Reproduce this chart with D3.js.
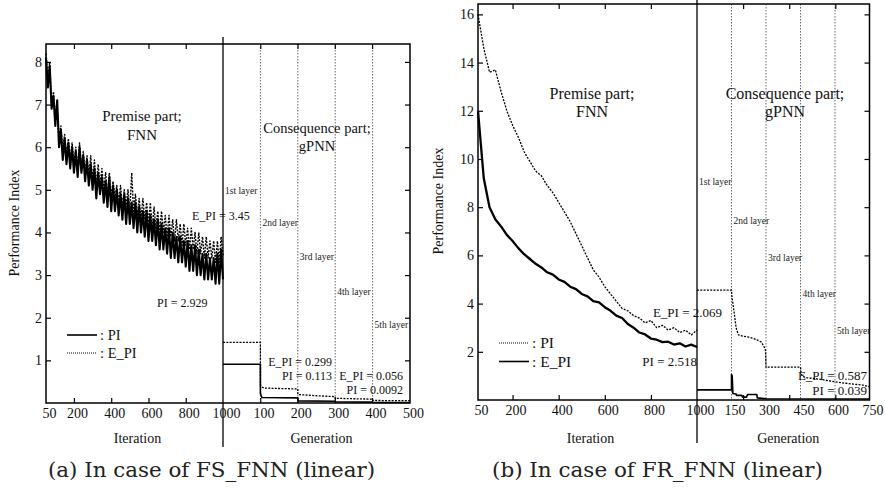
<!DOCTYPE html>
<html>
<head>
<meta charset="utf-8">
<script src="https://cdn.jsdelivr.net/npm/d3@7"></script>
<style>
body { margin: 0; background: #fff; }
svg { display: block; }
</style>
</head>
<body>
<svg id="chart" width="885" height="490"></svg>
<script>
// ---- (a) FS_FNN : premise part, one point every 10 iterations ----
var iterA = d3.range(50, 1001, 10)
var piA = [
    8.1, 7.4, 7.9, 6.9, 7.2, 6.5, 7.1, 6.0, 6.4, 5.7,
    6.2, 5.6, 6.1, 5.5, 6.0, 5.4, 5.9, 5.3, 6.0, 5.4,
    5.8, 5.2, 5.7, 5.1, 5.6, 5.0, 5.5, 4.8, 5.4, 4.9,
    5.3, 4.7, 5.2, 4.6, 5.3, 4.5, 5.1, 4.5, 5.0, 4.4,
    4.9, 4.3, 4.9, 4.2, 4.8, 4.2, 4.7, 4.1, 4.7, 4.0,
    4.6, 4.0, 4.5, 3.9, 4.5, 3.8, 4.4, 3.8, 4.3, 3.7,
    4.3, 3.6, 4.2, 3.6, 4.1, 3.5, 4.1, 3.4, 4.0, 3.4,
    3.9, 3.3, 3.9, 3.3, 3.8, 3.2, 3.8, 3.1, 3.7, 3.1,
    3.7, 3.0, 3.6, 3.0, 3.5, 2.9, 3.5, 2.9, 3.4, 2.9,
    3.4, 2.8, 3.5, 2.8, 3.6, 2.9
]
var epiA = [
    8.2, 7.6, 8.0, 7.0, 7.3, 6.7, 6.9, 6.2, 6.5, 5.9,
    6.3, 5.8, 6.2, 5.7, 6.1, 5.6, 6.0, 5.5, 6.1, 5.5,
    5.9, 5.4, 5.8, 5.3, 5.8, 5.2, 5.7, 5.1, 5.6, 5.1,
    5.5, 5.0, 5.4, 4.9, 5.4, 4.8, 5.2, 4.8, 5.1, 4.7,
    5.1, 4.6, 5.0, 4.6, 5.0, 4.5, 5.4, 4.5, 4.9, 4.4,
    4.8, 4.3, 4.8, 4.3, 4.7, 4.2, 4.7, 4.1, 4.6, 4.1,
    4.5, 4.0, 4.5, 4.0, 4.4, 3.9, 4.4, 3.9, 4.3, 3.8,
    4.3, 3.8, 4.2, 3.7, 4.2, 3.7, 4.1, 3.6, 4.1, 3.6,
    4.0, 3.5, 4.0, 3.5, 3.9, 3.4, 3.9, 3.4, 3.8, 3.4,
    3.8, 3.3, 3.8, 3.3, 3.9, 3.45
]
// consequence part (generation)
var genPiA = [0, 100, 100, 104, 200, 200, 300, 300, 400, 400, 500]
var conPiA = [0.91, 0.91, 0.22, 0.13, 0.12, 0.05, 0.04, 0.03, 0.02, 0.01, 0.01]
var genEpiA = [0, 100, 100, 103, 110, 150, 200, 200, 250, 300, 300, 350, 400, 400, 450, 500]
var conEpiA = [1.42, 1.42, 0.42, 0.38, 0.35, 0.34, 0.33, 0.2, 0.17, 0.15, 0.11, 0.1, 0.09, 0.06, 0.056, 0.056]

// ---- (b) FR_FNN : premise part, one point every 25 iterations ----
var iterB = d3.range(50, 1001, 25)
var upperB = [
    16.0, 14.6, 13.6, 13.7, 12.8, 12.0, 11.4, 10.9, 10.3, 9.9,
    9.5, 9.3, 8.9, 8.6, 8.2, 7.8, 7.4, 6.9, 6.4, 5.9,
    5.4, 5.1, 4.7, 4.4, 4.1, 3.8, 3.7, 3.5, 3.4, 3.2,
    3.3, 3.0, 3.1, 2.9, 3.0, 2.8, 2.9, 2.7, 2.9
]
var lowerB = [
    12.0, 9.2, 8.0, 7.5, 7.2, 6.85, 6.6, 6.3, 6.05, 5.85,
    5.65, 5.5, 5.3, 5.2, 5.0, 4.9, 4.7, 4.6, 4.4, 4.3,
    4.1, 4.05, 3.85, 3.7, 3.5, 3.4, 3.15, 3.0, 2.8, 2.72,
    2.55, 2.5, 2.4, 2.42, 2.3, 2.35, 2.22, 2.3, 2.2
]
var genUpperB = [0, 150, 152, 156, 162, 170, 180, 200, 230, 260, 280, 292, 298, 300, 450, 453, 460, 480, 520, 560, 600, 640, 680, 720, 750]
var conUpperB = [4.56, 4.56, 4.3, 4.0, 3.6, 3.0, 2.7, 2.65, 2.6, 2.5, 2.4, 2.2, 2.05, 1.36, 1.36, 1.1, 0.97, 0.92, 0.88, 0.82, 0.76, 0.7, 0.66, 0.62, 0.55]
var genLowerB = [0, 150, 150, 153, 156, 170, 172, 195, 198, 215, 220, 260, 262, 300, 750]
var conLowerB = [0.42, 0.42, 1.06, 1.0, 0.27, 0.25, 0.19, 0.19, 0.12, 0.12, 0.23, 0.23, 0.09, 0.05, 0.04]

var layerNames = ['1st layer', '2nd layer', '3rd layer', '4th layer', '5th layer']

var FONT = 'Liberation Serif'
var svg = d3.select('#chart')
svg.append('rect').attr('width', 885).attr('height', 490).attr('fill', '#fff')

var DOT = '2,1.3'

function label(g, x, y, size, str) {
    return g.append('text')
        .attr('x', x).attr('y', y)
        .attr('font-family', FONT)
        .attr('font-size', size)
        .attr('fill', '#111')
        .text(str)
}

function drawPanel(p) {
    var g = svg.append('g')
    var y = d3.scaleLinear().domain([0, p.yMax]).range([p.bottom, p.top])
    var xi = d3.scaleLinear().domain([50, 1000]).range([p.left, p.mid])
    var xg = d3.scaleLinear().domain([0, p.genMax]).range([p.mid, p.right])

    // layer borders
    g.selectAll('line.layer')
        .data(p.layerGen.slice(1))
        .join('line')
        .attr('x1', d => xg(d)).attr('x2', d => xg(d))
        .attr('y1', p.top).attr('y2', p.bottom)
        .attr('stroke', '#444').attr('stroke-width', 0.8)
        .attr('stroke-dasharray', '1.5,1.5')

    // ticks (inward, on all four sides)
    var tickAxes = [
        [d3.axisTop(xi).tickValues(p.iterTicks), `translate(0,${p.top})`],
        [d3.axisBottom(xi).tickValues(p.iterTicks), `translate(0,${p.bottom})`],
        [d3.axisRight(y).tickValues(p.yTicks), `translate(${p.right},0)`]
    ]
    tickAxes.forEach(a => {
        var ag = g.append('g').attr('transform', a[1])
            .call(a[0].tickSizeInner(-5).tickSizeOuter(0).tickFormat(''))
        ag.select('.domain').remove()
        ag.selectAll('line').attr('stroke', '#000').attr('stroke-width', 1.2)
    })

    // y axis with labels
    var ya = g.append('g').attr('transform', `translate(${p.left},0)`)
        .call(d3.axisLeft(y).tickValues(p.yTicks).tickSizeInner(-5).tickSizeOuter(0).tickPadding(4))
    ya.select('.domain').remove()
    ya.selectAll('line').attr('stroke', '#000').attr('stroke-width', 1.2)

    // x labels
    var xa = g.append('g').attr('transform', `translate(0,${p.bottom})`)
        .call(d3.axisBottom(xi).tickValues(p.iterLabels).tickFormat(d3.format('d')).tickSize(0).tickPadding(5))
    var ga = g.append('g').attr('transform', `translate(0,${p.bottom})`)
        .call(d3.axisBottom(xg).tickValues(p.genLabels).tickFormat(d3.format('d')).tickSize(0).tickPadding(5))
    ;[ya, xa, ga].forEach(a => {
        a.attr('font-size', null).attr('font-family', null)
        a.selectAll('text').attr('fill', '#111').attr('font-family', FONT).attr('font-size', 14)
    })
    xa.select('.domain').remove()
    ga.select('.domain').remove()
    xa.selectAll('text').attr('dx', 3)
    ga.selectAll('text').attr('dx', 3)

    // curves
    var lineI = (xs) => d3.line().x((d, i) => xi(xs[i])).y(d => y(d))
    var lineG = (xs) => d3.line().x((d, i) => xg(xs[i])).y(d => y(d))
    p.curves.forEach(c => {
        g.append('path')
            .datum(c.values)
            .attr('d', (c.gen ? lineG : lineI)(c.x))
            .attr('fill', 'none')
            .attr('stroke', '#000')
            .attr('stroke-width', c.w)
            .attr('stroke-dasharray', c.dash ? DOT : null)
            .attr('stroke-linejoin', 'round')
    })

    // frame
    g.append('rect')
        .attr('x', p.left).attr('y', p.top)
        .attr('width', p.right - p.left).attr('height', p.bottom - p.top)
        .attr('fill', 'none').attr('stroke', '#000').attr('stroke-width', 1.5)

    // premise / consequence divider
    g.append('line')
        .attr('x1', p.mid).attr('x2', p.mid)
        .attr('y1', p.divTop).attr('y2', p.divBottom)
        .attr('stroke', '#000').attr('stroke-width', 1.3)

    // layer labels
    layerNames.forEach((d, i) => {
        label(g, xg(p.layerGen[i]) + 2, y(p.layerY[i]), 9.5, d).attr('fill', '#222')
    })

    // section titles
    p.titles.forEach(t => {
        label(g, t.x, t.y, t.size, t.text).attr('text-anchor', 'middle')
    })

    // value notes
    p.notes.forEach(t => {
        label(g, t.x, t.y, t.size, t.text).attr('text-anchor', t.end ? 'end' : 'start')
    })

    // legend
    p.legend.forEach((l, i) => {
        var ly = p.legendY + i * p.legendStep
        g.append('line')
            .attr('x1', p.legendX).attr('x2', p.legendX + 30)
            .attr('y1', ly).attr('y2', ly)
            .attr('stroke', '#000')
            .attr('stroke-width', l.dash ? 1 : 1.6)
            .attr('stroke-dasharray', l.dash ? '1,1' : null)
        label(g, p.legendX + 33, ly + 5, p.legendSize, ': ' + l.name)
    })

    // axis titles
    label(g, 0, 0, 14, 'Performance Index')
        .attr('transform', `translate(${p.yTitleX},${p.yTitleY}) rotate(-90)`)
        .attr('text-anchor', 'middle')
    label(g, (p.left + p.mid) / 2 + 3, 443, 14, 'Iteration').attr('text-anchor', 'middle')
    label(g, (p.mid + p.right) / 2 + 5, 443, 14, 'Generation').attr('text-anchor', 'middle')

    // caption
    label(g, p.capX, 477, 21, p.caption)
        .attr('font-family', 'DejaVu Serif')
        .attr('fill', '#222')
        .attr('textLength', p.capW)
        .attr('lengthAdjust', 'spacingAndGlyphs')
}

drawPanel({
    left: 46, mid: 223, right: 410, top: 44, bottom: 403,
    yMax: 8.42, genMax: 500, divTop: 37, divBottom: 447,
    yTicks: [1, 2, 3, 4, 5, 6, 7, 8],
    iterTicks: [200, 400, 600, 800, 1200, 1400, 1600, 1800],
    iterLabels: [50, 200, 400, 600, 800, 1000],
    genLabels: [100, 200, 300, 400, 500],
    layerGen: [0, 100, 200, 300, 400],
    layerY: [4.9, 4.15, 3.36, 2.54, 1.77],
    curves: [
        { x: iterA, values: epiA, w: 1.4, dash: true },
        { x: iterA, values: piA, w: 2.1 },
        { x: genEpiA, values: conEpiA, w: 1.3, dash: true, gen: true },
        { x: genPiA, values: conPiA, w: 1.6, gen: true }
    ],
    titles: [
        { text: 'Premise part;', x: 142, y: 121, size: 15 },
        { text: 'FNN', x: 142, y: 139.5, size: 15 },
        { text: 'Consequence part;', x: 317, y: 132.5, size: 14.5 },
        { text: 'gPNN', x: 317, y: 150.5, size: 14.5 }
    ],
    notes: [
        { text: 'E_PI = 3.45', x: 192, y: 220, size: 12 },
        { text: 'PI = 2.929', x: 157, y: 307, size: 12 },
        { text: 'E_PI = 0.299', x: 332, y: 366, size: 12, end: true },
        { text: 'PI = 0.113', x: 332, y: 380, size: 12, end: true },
        { text: 'E_PI = 0.056', x: 403, y: 380, size: 12, end: true },
        { text: 'PI = 0.0092', x: 403, y: 394, size: 12, end: true }
    ],
    legend: [{ name: 'PI' }, { name: 'E_PI', dash: true }],
    legendX: 67, legendY: 335, legendStep: 18, legendSize: 14.5,
    yTitleX: 19, yTitleY: 223,
    caption: '(a) In case of FS_FNN (linear)', capX: 48, capW: 327
})

drawPanel({
    left: 478, mid: 697, right: 869.5, top: 4, bottom: 400,
    yMax: 16.43, genMax: 750, divTop: 0, divBottom: 443,
    yTicks: [2, 4, 6, 8, 10, 12, 14, 16],
    iterTicks: [200, 400, 600, 800, 1200, 1400, 1600],
    iterLabels: [50, 200, 400, 600, 800, 1000],
    genLabels: [150, 300, 450, 600, 750],
    layerGen: [0, 150, 300, 450, 600],
    layerY: [8.9, 7.32, 5.75, 4.29, 2.72],
    curves: [
        { x: iterB, values: upperB, w: 1.3, dash: true },
        { x: iterB, values: lowerB, w: 2.3 },
        { x: genUpperB, values: conUpperB, w: 1.3, dash: true, gen: true },
        { x: genLowerB, values: conLowerB, w: 1.6, gen: true }
    ],
    titles: [
        { text: 'Premise part;', x: 592, y: 98.5, size: 16 },
        { text: 'FNN', x: 592, y: 117, size: 16 },
        { text: 'Consequence part;', x: 785, y: 98.5, size: 16 },
        { text: 'gPNN', x: 785, y: 117, size: 16 }
    ],
    notes: [
        { text: 'E_PI = 2.069', x: 722, y: 317, size: 13, end: true },
        { text: 'PI = 2.518', x: 697, y: 366, size: 13, end: true },
        { text: 'E_PI = 0.587', x: 867, y: 380, size: 13, end: true },
        { text: 'PI = 0.039', x: 867, y: 395, size: 13, end: true }
    ],
    legend: [{ name: 'PI', dash: true }, { name: 'E_PI' }],
    legendX: 499, legendY: 343, legendStep: 18.5, legendSize: 15.5,
    yTitleX: 443, yTitleY: 201,
    caption: '(b) In case of FR_FNN (linear)', capX: 492, capW: 331
})
</script>
</body>
</html>
